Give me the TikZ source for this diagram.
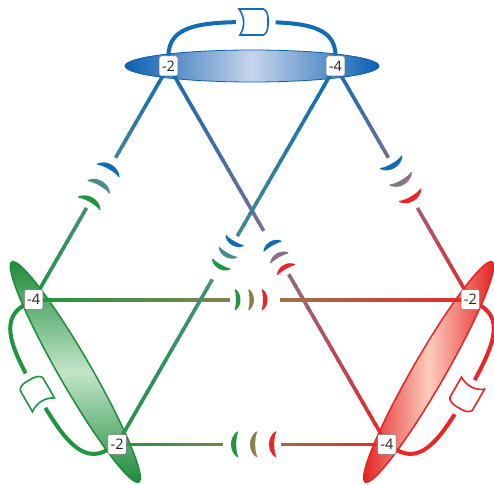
\documentclass[tikz,border=0pt]{standalone}
\usepackage{fontspec}
\setmainfont{Open Sans}
\usetikzlibrary{calc}
\pgfdeclarelayer{fg}
\pgfsetlayers{main,fg}

\definecolor{cB}{RGB}{16,108,182}
\definecolor{cG}{RGB}{30,150,65}
\definecolor{cR}{RGB}{232,38,40}
\definecolor{mBR}{RGB}{138,110,140}
\definecolor{mBG}{RGB}{75,140,140}
\definecolor{mGR}{RGB}{140,128,80}
\definecolor{eBd}{RGB}{10,96,176}
\definecolor{eBl}{RGB}{200,212,236}
\definecolor{eGd}{RGB}{30,140,60}
\definecolor{eGl}{RGB}{195,228,200}
\definecolor{eRd}{RGB}{228,35,35}
\definecolor{eRl}{RGB}{252,205,190}

% gradient part of a connector
\newcommand{\gradpart}[7]{%
  \foreach \k in {0,...,15}{%
    \pgfmathsetmacro{\ta}{#3+(#4-#3)*\k/16}%
    \pgfmathsetmacro{\tb}{min(#4,#3+(#4-#3)*(\k+1.2)/16)}%
    \pgfmathsetmacro{\tm}{#3+(#4-#3)*(\k+0.5)/16}%
    \ifdim\tm pt<0.5pt
      \pgfmathsetmacro{\pp}{200*\tm}%
      \colorlet{segc}{#6!\pp!#5}%
    \else
      \pgfmathsetmacro{\pp}{200*\tm-100}%
      \colorlet{segc}{#7!\pp!#6}%
    \fi
    \draw[conn, segc] ($(#1)!\ta!(#2)$) -- ($(#1)!\tb!(#2)$);
  }%
}
\newcommand{\gradline}[7]{%
  \pgfmathsetmacro{\gapS}{#6-#7}\pgfmathsetmacro{\gapE}{#6+#7}%
  \gradpart{#1}{#2}{0}{\gapS}{#3}{#4}{#5}%
  \gradpart{#1}{#2}{\gapE}{1}{#3}{#4}{#5}%
}
% crescent bulging to +x: color, apex x, half chord, sagitta, thickness
\newcommand{\cres}[5]{%
  \fill[#1] ({#2-#4},{-#3}) .. controls ({#2+#4/3},{-0.55*#3}) and ({#2+#4/3},{0.55*#3}) .. ({#2-#4},{#3})
    -- ({#2-#4-0.8},{#3-0.6}) .. controls ({#2+#4/3-4*#5/3},{0.55*#3}) and ({#2+#4/3-4*#5/3},{-0.55*#3}) .. ({#2-#4-0.8},{-#3+0.6}) -- cycle;}
\newcommand{\outercoup}[6]{%
  \begin{scope}[shift={($(#1)!0.5!(#2)$)}, rotate=#3]
    \cres{#4}{-17}{13}{6.5}{5}
    \cres{#5}{2}{13}{6.5}{5}
    \cres{#6}{21}{13}{6.5}{5}
  \end{scope}}
\newcommand{\longcoup}[6]{%
  \begin{scope}[shift={($(#1)!0.5!(#2)$)}, rotate=#3, xscale=-1]
    \cres{#4}{15.5}{10.5}{5}{4.4}
    \cres{#5}{2}{10.5}{5}{4.4}
    \cres{#6}{-11.5}{10.5}{5}{4.4}
  \end{scope}}
\newcommand{\gatepath}{(-13,13) -- (11,13) .. controls (14,12.5) and (16,8) .. (16,4) -- (16,-3) .. controls (16,-8) and (14,-12.5) .. (11,-13) -- (-12,-13) .. controls (-7,-5) and (-7,5) .. (-13,13) -- cycle}

\begin{document}
\begin{tikzpicture}[x=1pt,y=1pt,
  conn/.style={line width=3.6pt},
  loopline/.style={line width=4pt},
  lab/.style={draw=black!55, line width=0.5pt, fill=white, rounded corners=2pt,
    minimum height=20pt, inner xsep=2.8pt, inner ysep=0pt,
    font=\fontsize{14.5}{14.5}\selectfont, text=black!85}]
\useasboundingbox (-252,-214) rectangle (242,270);

% ---- ellipses ----
\begin{scope}
  \clip (0,204) ellipse [x radius=127, y radius=16];
  \shade[left color=eBd, right color=eBd, middle color=eBl] (-127,188) rectangle (127,220);
\end{scope}
\draw[eBd, line width=0.8pt] (0,204) ellipse [x radius=127, y radius=16];

\begin{scope}
  \clip[rotate=120] (0,204) ellipse [x radius=127, y radius=16];
  \shade[top color=eGd, bottom color=eGd, middle color=eGl] (-242.2,-212.5) rectangle (-111.2,8.5);
\end{scope}
\draw[eGd, line width=1.5pt, rotate=120] (0,204) ellipse [x radius=127, y radius=16];

\begin{scope}
  \clip[rotate=-120] (0,204) ellipse [x radius=127, y radius=16];
  \shade[left color=eRd, right color=eRd, middle color=eRl] (111.2,-212.5) rectangle (242.2,8.5);
\end{scope}
\draw[eRd, line width=1.5pt, rotate=-120] (0,204) ellipse [x radius=127, y radius=16];

% ---- labels ----
\begin{pgfonlayer}{fg}
\node[lab] (b2) at (-83.5,204) {-2};
\node[lab] (b4) at (83.5,204) {-4};
\node[lab] (r2) at (218.4,-29.7) {-2};
\node[lab] (r4) at (134.9,-174.3) {-4};
\node[lab] (g2) at (-134.9,-174.3) {-2};
\node[lab] (g4) at (-218.4,-29.7) {-4};
\end{pgfonlayer}

% ---- connectors ----
\gradline{b4}{r2}{cB}{mBR}{cR}{0.5}{0.1074}
\gradline{b2}{r4}{cB}{mBR}{cR}{0.4931}{0.0572}
\gradline{r4}{g2}{cR}{mGR}{cG}{0.5}{0.1074}
\gradline{r2}{g4}{cR}{mGR}{cG}{0.4931}{0.0572}
\gradline{g4}{b2}{cG}{mBG}{cB}{0.5}{0.1074}
\gradline{g2}{b4}{cG}{mBG}{cB}{0.4931}{0.0572}

\outercoup{b4}{r2}{-60}{cB}{mBR}{cR}
\longcoup{b2}{r4}{-60}{cB}{mBR}{cR}
\outercoup{r4}{g2}{180}{cR}{mGR}{cG}
\longcoup{r2}{g4}{180}{cR}{mGR}{cG}
\outercoup{g4}{b2}{60}{cG}{mBG}{cB}
\longcoup{g2}{b4}{60}{cG}{mBG}{cB}

% ---- loops with gates ----
\begin{scope}[rotate=0]
  \coordinate (btop) at (0,248);
  \draw[loopline, cB] (b2) .. controls +(0,41) and +(-50,0) .. (btop) .. controls +(50,0) and +(0,41) .. (b4);
  \begin{scope}[shift={(0,248)}]
    \draw[white, line width=15pt] \gatepath;
    \draw[cB, fill=white, line width=1.6pt] \gatepath;
  \end{scope}
\end{scope}
\begin{scope}[rotate=120]
  \coordinate (gtop) at (0,248);
  \draw[loopline, cG] (g2) .. controls +(0,41) and +(-50,0) .. (gtop) .. controls +(50,0) and +(0,41) .. (g4);
  \begin{scope}[shift={(0,248)}]
    \draw[white, line width=15pt] \gatepath;
    \draw[cG, fill=white, line width=1.6pt] \gatepath;
  \end{scope}
\end{scope}
\begin{scope}[rotate=-120]
  \coordinate (rtop) at (0,248);
  \draw[loopline, cR] (r2) .. controls +(0,41) and +(-50,0) .. (rtop) .. controls +(50,0) and +(0,41) .. (r4);
  \begin{scope}[shift={(0,248)}]
    \draw[white, line width=15pt] \gatepath;
    \draw[cR, fill=white, line width=1.6pt] \gatepath;
  \end{scope}
\end{scope}
\end{tikzpicture}
\end{document}
